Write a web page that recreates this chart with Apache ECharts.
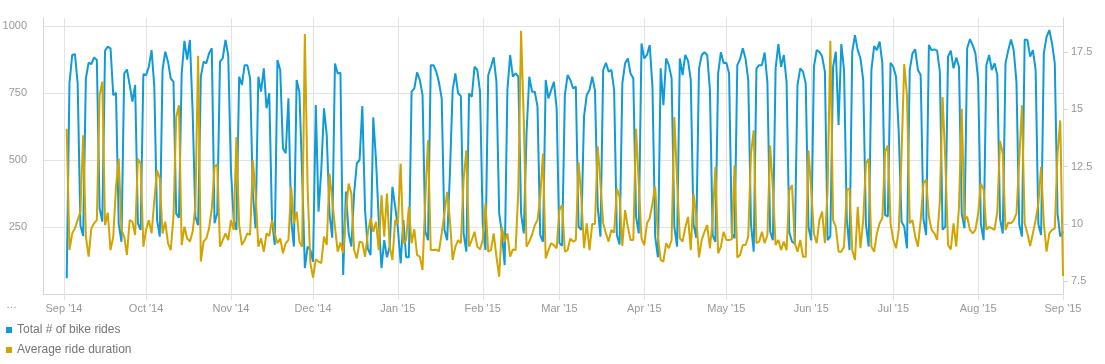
<!DOCTYPE html>
<html><head><meta charset="utf-8">
<script src="https://cdn.jsdelivr.net/npm/echarts@6/dist/echarts.min.js"></script>
<style>html,body{margin:0;padding:0;background:#fff}#c{width:1105px;height:364px}</style>
</head><body><div id="c"></div>
<script>
// first plotted day (one point per day)
const startDate = '2014-09-02';
const monthStarts = ['2014-09-01','2014-10-01','2014-11-01','2014-12-01','2015-01-01','2015-02-01','2015-03-01','2015-04-01','2015-05-01','2015-06-01','2015-07-01','2015-08-01','2015-09-01'];
const monthLabels = ["Sep '14","Oct '14","Nov '14","Dec '14","Jan '15","Feb '15","Mar '15","Apr '15","May '15","Jun '15","Jul '15","Aug '15","Sep '15"];
const leftTicks = [250, 500, 750, 1000];
const rightTicks = [7.5, 10, 12.5, 15, 17.5];
const seriesNames = ['Total # of bike rides', 'Average ride duration'];

const rides = [
  59,786,892,895,786,257,216,
  805,863,858,883,873,320,270,
  908,923,917,742,751,260,195,
  823,838,780,718,780,264,239,
  820,817,848,910,774,276,214,
  836,904,867,805,792,300,285,
  823,945,875,948,680,289,257,
  811,867,861,898,917,264,301,
  867,879,948,892,463,276,239,
  811,780,854,854,805,376,245,
  811,755,842,693,749,276,183,
  873,836,544,525,730,277,177,
  799,755,450,97,177,165,120,
  705,307,463,693,593,300,210,
  860,823,826,71,382,226,177,
  376,488,500,701,313,170,145,
  659,500,276,96,201,137,177,
  400,326,245,114,276,137,137,
  755,767,827,799,743,233,201,
  854,854,830,790,730,240,201,
  450,761,823,749,739,226,158,
  749,736,848,836,755,260,164,
  817,848,883,792,301,226,108,
  761,892,811,823,811,300,226,
  600,811,755,755,699,220,195,
  799,730,761,792,693,190,180,
  743,817,799,767,774,251,239,
  662,743,761,811,761,326,214,
  836,863,830,836,761,220,185,
  786,861,879,823,805,289,226,
  935,879,892,929,774,214,137,
  842,705,879,854,805,251,177,
  879,817,892,870,799,260,210,
  840,892,902,892,761,220,195,
  823,902,861,863,823,226,208,
  854,876,917,879,799,260,158,
  842,854,854,901,790,233,201,
  842,933,848,892,792,230,195,
  189,780,842,830,786,250,200,
  848,910,904,886,830,201,216,
  848,904,631,933,836,280,164,
  904,966,910,879,799,260,177,
  836,925,910,942,861,295,289,
  863,848,811,600,270,251,170,
  836,898,913,836,817,280,220,
  929,910,913,908,830,240,251,
  886,908,842,882,848,300,245,
  917,951,929,898,799,260,201,
  854,892,836,861,817,280,226,
  861,910,950,910,790,260,214,
  950,948,886,910,836,260,220,
  898,960,985,935,861,300,215,
  233
];

const duration = [
  14.16,8.85,9.58,9.80,10.16,10.53,13.87,
  9.44,8.56,9.80,10.02,10.16,15.61,16.22,
  9.94,10.48,8.85,9.44,11.62,12.85,9.73,
  9.44,8.64,10.16,10.09,9.51,12.85,12.63,
  9.00,9.73,10.16,9.58,11.03,12.34,11.98,
  9.58,10.09,9.15,8.85,10.31,14.67,15.18,
  9.07,9.87,9.36,9.22,9.65,10.74,17.35,
  8.35,9.22,9.36,9.80,10.67,12.49,12.60,
  9.00,9.29,9.58,9.29,10.16,9.73,13.80,
  9.94,9.07,9.29,9.58,9.51,12.78,11.32,
  9.00,9.36,8.78,9.58,9.46,10.16,9.58,
  9.15,9.36,8.71,9.15,9.29,11.62,10.02,
  10.53,9.22,9.00,18.30,11.62,8.30,7.65,
  8.45,8.35,8.28,9.44,9.07,12.20,11.03,
  9.87,8.78,9.18,8.71,10.50,11.76,11.32,
  8.85,8.49,9.22,9.18,8.56,9.58,10.24,
  9.65,10.09,8.85,11.25,9.44,11.32,9.00,
  8.42,10.16,10.02,12.63,9.15,9.29,10.74,
  9.15,9.76,8.64,8.56,7.98,11.03,13.65,
  8.85,8.85,8.87,8.80,9.58,10.45,11.40,
  10.16,8.42,9.00,9.29,9.15,11.91,13.21,
  9.00,9.29,9.65,9.00,8.88,9.29,10.89,
  8.78,8.85,9.58,8.56,7.69,9.87,9.22,
  9.58,8.56,8.88,8.85,11.50,18.44,14.50,
  9.00,9.22,9.51,9.94,10.16,11.18,13.07,
  8.49,8.85,9.15,9.07,8.93,10.60,10.84,
  8.78,8.85,9.36,9.22,9.29,12.70,11.18,
  8.93,10.02,8.85,9.99,9.99,13.39,11.76,
  10.02,9.58,9.22,9.73,9.61,11.54,11.18,
  9.03,10.60,9.87,9.29,9.29,14.16,11.76,
  9.36,9.07,10.02,10.24,10.89,11.62,9.44,
  8.42,8.35,9.15,8.93,9.29,14.67,11.91,
  9.36,9.22,9.84,10.30,8.85,11.32,10.31,
  8.53,9.29,9.65,9.94,8.93,10.16,12.49,
  8.71,9.00,9.65,9.29,9.29,9.32,12.56,
  8.53,8.64,9.07,9.07,9.44,13.07,14.09,
  9.15,9.22,9.65,9.15,9.51,13.43,11.50,
  9.07,9.29,8.85,9.22,8.85,11.47,11.69,
  9.15,8.78,9.29,8.56,8.56,13.21,11.50,
  9.58,9.15,10.16,10.53,9.15,11.50,18.00,
  10.16,9.87,8.78,8.78,9.00,11.47,11.54,
  8.85,8.42,10.74,8.93,10.16,12.63,12.85,
  9.00,8.78,9.58,10.02,10.24,13.14,13.43,
  10.00,9.29,8.93,9.73,13.00,16.99,15.61,
  10.02,10.16,9.44,9.00,10.16,11.76,11.94,
  10.31,9.73,9.58,9.30,11.00,15.54,12.78,
  9.07,8.88,10.02,9.00,10.74,15.03,10.16,
  10.31,9.73,9.58,9.73,10.45,11.76,11.50,
  9.73,9.87,9.80,9.73,10.53,13.62,13.07,
  9.73,10.05,10.02,10.16,10.45,12.78,15.18,
  10.02,9.58,9.03,9.58,10.16,10.89,12.49,
  10.02,8.78,9.58,9.73,9.80,13.07,14.52,
  7.72
];

const DAY = 86400000;
const t0 = Date.parse(startDate + 'T00:00:00Z');
const times = rides.map((_, i) => t0 + i * DAY);
const monthTs = monthStarts.map(d => Date.parse(d + 'T00:00:00Z'));
const xMin = monthTs[0] - 7.67 * DAY;
const xMax = monthTs[monthTs.length - 1];

const grey = '#999999';
const gridCol = '#e3e3e3';
const axisCol = '#d6d6d6';
const font = '"Liberation Sans", Helvetica, Arial, sans-serif';

const chart = echarts.init(document.getElementById('c'), null, {renderer: 'canvas'});
chart.setOption({
  animation: false,
  backgroundColor: '#ffffff',
  textStyle: {fontFamily: font},
  grid: {left: 43, right: 42, top: 18, bottom: 70, containLabel: false, outerBoundsMode: 'none'},
  legend: {
    orient: 'vertical', left: 1, top: 318,
    icon: 'rect', itemWidth: 6, itemHeight: 6, itemGap: 6,
    textStyle: {fontSize: 12, color: '#757575', fontFamily: font, lineHeight: 14},
    data: seriesNames
  },
  graphic: [{type: 'text', left: 6, top: 299, style: {text: '\u2026', fill: grey, fontSize: 11, fontFamily: font}}],
  xAxis: {
    type: 'value', min: xMin, max: xMax,
    axisLine: {show: true, lineStyle: {color: axisCol, width: 1}},
    axisTick: {show: true, length: 6, customValues: monthTs, lineStyle: {color: gridCol}},
    splitLine: {show: true, lineStyle: {color: gridCol, width: 1}},
    axisLabel: {
      customValues: monthTs, margin: 9, color: grey, fontSize: 11, fontFamily: font,
      formatter: v => { const k = monthTs.indexOf(v); return k >= 0 ? monthLabels[k] : ''; }
    }
  },
  yAxis: [{
    type: 'value', min: 0, max: 1030, position: 'left',
    axisLine: {show: true, lineStyle: {color: axisCol}},
    axisTick: {show: false, customValues: [0].concat(leftTicks)},
    splitLine: {show: true, lineStyle: {color: gridCol, width: 1}},
    axisLabel: {customValues: leftTicks, margin: 16, color: grey, fontSize: 11, fontFamily: font,
      formatter: v => String(v)}
  }, {
    type: 'value', min: 6.93, max: 19, position: 'right',
    axisLine: {show: true, lineStyle: {color: axisCol}},
    axisTick: {show: true, length: 5, customValues: rightTicks, lineStyle: {color: axisCol}},
    splitLine: {show: false},
    axisLabel: {customValues: rightTicks, margin: 8, color: grey, fontSize: 11, fontFamily: font,
      formatter: v => String(v)}
  }],
  series: [{
    name: seriesNames[0], type: 'line', yAxisIndex: 0, showSymbol: false,
    data: times.map((t, i) => [t, rides[i]]),
    lineStyle: {width: 2, color: '#0f9bd8'}, itemStyle: {color: '#0f9bd8'}
  }, {
    name: seriesNames[1], type: 'line', yAxisIndex: 1, showSymbol: false,
    data: times.map((t, i) => [t, duration[i]]),
    lineStyle: {width: 2, color: '#d2a400'}, itemStyle: {color: '#d2a400'}
  }]
});
</script></body></html>
